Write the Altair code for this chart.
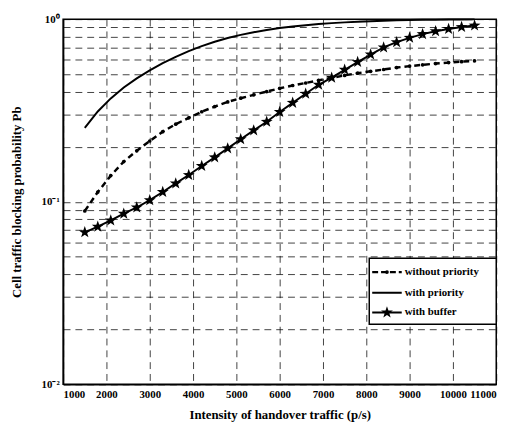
import altair as alt
import pandas as pd

x_vals = [1500, 1800, 2100, 2400, 2700, 3000, 3300, 3600, 3900, 4200, 4500,
          4800, 5100, 5400, 5700, 6000, 6300, 6600, 6900, 7200, 7500, 7800,
          8100, 8400, 8700, 9000, 9300, 9600, 9900, 10200, 10500]

without_priority = [0.089, 0.113, 0.139, 0.166, 0.190, 0.215, 0.242, 0.266, 0.288,
                    0.311, 0.332, 0.352, 0.369, 0.385, 0.401, 0.418, 0.433, 0.447,
                    0.462, 0.477, 0.492, 0.506, 0.518, 0.530, 0.543, 0.553, 0.562,
                    0.571, 0.578, 0.585, 0.591]

with_priority = [0.254, 0.312, 0.368, 0.422, 0.474, 0.524, 0.574, 0.622, 0.668,
                 0.712, 0.752, 0.788, 0.820, 0.848, 0.872, 0.894, 0.912, 0.927,
                 0.940, 0.951, 0.960, 0.968, 0.975, 0.980, 0.985, 0.988, 0.991,
                 0.993, 0.995, 0.996, 0.997]

with_buffer = [0.068, 0.073, 0.079, 0.086, 0.093, 0.102, 0.113, 0.126, 0.140,
               0.157, 0.175, 0.196, 0.220, 0.246, 0.274, 0.310, 0.348, 0.390,
               0.437, 0.478, 0.528, 0.582, 0.640, 0.700, 0.748, 0.790, 0.828,
               0.858, 0.883, 0.905, 0.922]

x_ticks = [1000, 2000, 3000, 4000, 5000, 6000, 7000, 8000, 9000, 10000, 11000]
y_grid = [0.01, 0.02, 0.03, 0.04, 0.05, 0.06, 0.07, 0.08, 0.09,
          0.1, 0.2, 0.3, 0.4, 0.5, 0.6, 0.7, 0.8, 0.9, 1.0]
legend_labels = ["without priority", "with priority", "with buffer"]

FONT = "Liberation Serif"
STAR = ("M0,-1 L0.235,-0.324 L0.951,-0.309 L0.380,0.124 L0.588,0.809 L0,0.4 "
        "L-0.588,0.809 L-0.380,0.124 L-0.951,-0.309 L-0.235,-0.324 Z")

df_wo = pd.DataFrame({"x": x_vals, "y": without_priority})
df_wp = pd.DataFrame({"x": x_vals, "y": with_priority})
df_wb = pd.DataFrame({"x": x_vals, "y": with_buffer})

xs = alt.X("x:Q", scale=alt.Scale(domain=[1000, 11000], nice=False),
           axis=alt.Axis(values=x_ticks, format="d",
                         title="Intensity of handover traffic (p/s)",
                         titlePadding=10, labelPadding=4, ticks=False))
ys = alt.Y("y:Q", scale=alt.Scale(type="log", domain=[0.01, 1], nice=False),
           axis=alt.Axis(values=y_grid,
                         labelExpr="datum.value == 1 ? '10⁰' : (abs(datum.value - 0.1) < 1e-9 ? '10⁻¹' : (abs(datum.value - 0.01) < 1e-9 ? '10⁻²' : ''))",
                         title="Cell traffic blocking probability Pb",
                         titlePadding=18, labelPadding=4, ticks=False))

line_wo = alt.Chart(df_wo).mark_line(color="black", strokeWidth=2.5,
                                     strokeDash=[6, 4]).encode(x=xs, y=ys)
pts_wo = alt.Chart(df_wo).mark_point(shape="circle", filled=True, color="black",
                                     size=14, opacity=1).encode(x=xs, y=ys)
line_wp = alt.Chart(df_wp).mark_line(color="black", strokeWidth=2).encode(x=xs, y=ys)
line_wb = alt.Chart(df_wb).mark_line(color="black", strokeWidth=2).encode(x=xs, y=ys)
pts_wb = alt.Chart(df_wb).mark_point(shape=STAR, filled=True, color="black",
                                     size=160, opacity=1).encode(x=xs, y=ys)

one = pd.DataFrame({"a": [0]})
leg_box = alt.Chart(one).mark_rect(fill="white", stroke="black", strokeWidth=1.5).encode(
    x=alt.value(311), x2=alt.value(440), y=alt.value(243), y2=alt.value(310))
leg_items = []
ly = [257, 278, 298]
dashes = [[6, 3], [1, 0], [1, 0]]
for i, lab in enumerate(legend_labels):
    leg_items.append(alt.Chart(one).mark_rule(color="black", strokeWidth=2.5 if i == 0 else 2,
                                              strokeDash=dashes[i]).encode(
        x=alt.value(314), x2=alt.value(344), y=alt.value(ly[i])))
    leg_items.append(alt.Chart(one).mark_text(align="left", baseline="middle", font=FONT,
                                              fontWeight="bold", fontSize=11, text=lab,
                                              color="black").encode(
        x=alt.value(347), y=alt.value(ly[i])))
leg_items.append(alt.Chart(one).mark_point(shape="circle", filled=True, color="black",
                                           size=14, opacity=1).encode(
    x=alt.value(329), y=alt.value(ly[0])))
leg_items.append(alt.Chart(one).mark_point(shape=STAR, filled=True, color="black",
                                           size=160, opacity=1).encode(
    x=alt.value(329), y=alt.value(ly[2])))

chart = alt.layer(line_wo, pts_wo, line_wp, line_wb, pts_wb, leg_box, *leg_items).properties(
    width=440, height=371,
    autosize=alt.AutoSizeParams(type="none"),
    padding={"left": 56, "top": 8, "right": 15, "bottom": 38},
    background="white",
).configure_view(stroke="black", strokeWidth=1.5).configure_axis(
    labelFont=FONT, labelFontWeight="bold", labelFontSize=11, labelColor="black",
    titleFont=FONT, titleFontWeight="bold", titleFontSize=13, titleColor="black",
    domainColor="black", domainWidth=1.5,
    grid=True, gridColor="black", gridOpacity=0.75, gridWidth=1, gridDash=[7, 5],
)

chart.save("out.html", embed_options={"renderer": "svg", "actions": False})
